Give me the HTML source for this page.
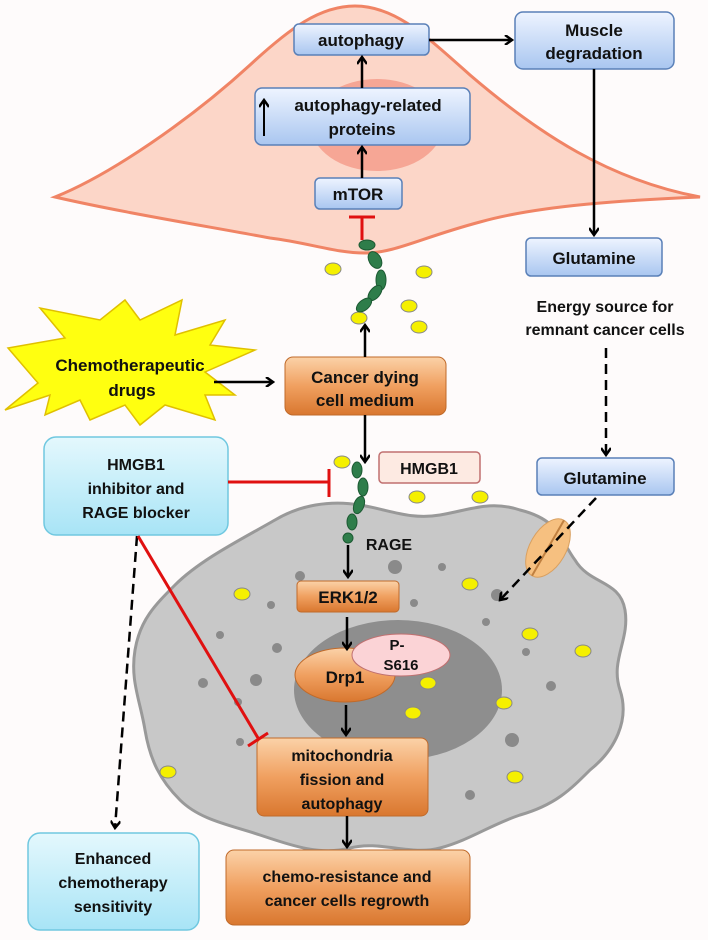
<!DOCTYPE html>
<html><head><meta charset="utf-8"><style>
html,body{margin:0;padding:0;background:#fff;}
svg text{font-family:"Liberation Sans",sans-serif;font-weight:bold;fill:#111;text-anchor:middle;}
</style></head><body>
<svg width="708" height="940" viewBox="0 0 708 940" xmlns="http://www.w3.org/2000/svg">
<defs>
<linearGradient id="blue" x1="0" y1="0" x2="0" y2="1"><stop offset="0" stop-color="#eef4ff"/><stop offset="1" stop-color="#a9c6f0"/></linearGradient>
<linearGradient id="orange" x1="0" y1="0" x2="0" y2="1"><stop offset="0" stop-color="#fbd2a8"/><stop offset="0.5" stop-color="#f0a060"/><stop offset="1" stop-color="#d9772f"/></linearGradient>
<linearGradient id="cyan" x1="0" y1="0" x2="0" y2="1"><stop offset="0" stop-color="#e4f8fd"/><stop offset="1" stop-color="#a8e4f6"/></linearGradient>
<marker id="ah" markerWidth="10" markerHeight="10" refX="8" refY="5" orient="auto" markerUnits="userSpaceOnUse"><path d="M1,0 L8,5 L1,10" fill="none" stroke="#000" stroke-width="2.5"/></marker>
</defs>
<rect width="708" height="940" fill="#fefbfb"/>
<!-- muscle cell -->
<path d="M55,197 C110,175 190,120 250,65 C290,28 320,6 355,6 C395,6 425,35 470,75 C540,135 610,180 700,197 C630,200 540,205 480,222 C420,238 395,253 365,253 C335,253 310,243 270,238 C200,225 120,212 55,197 Z" fill="#fcd6c8" stroke="#f08465" stroke-width="3"/>
<ellipse cx="377" cy="125" rx="66" ry="46" fill="#f6a695"/>
<!-- gray cancer cell -->
<path d="M175,585 C200,560 240,540 275,520 C300,505 330,500 360,505 C390,510 410,520 440,515 C470,510 490,500 520,510 C560,520 560,540 575,560 C590,585 620,580 625,610 C630,640 610,660 620,690 C630,720 615,750 590,770 C570,790 555,805 520,815 C490,825 470,840 440,848 C410,856 380,840 350,848 C320,856 290,845 260,835 C230,825 200,820 180,800 C160,780 150,760 145,730 C140,700 130,680 135,650 C140,620 155,605 175,585 Z" fill="#c8c8c8" stroke="#999" stroke-width="3"/>
<ellipse cx="398" cy="690" rx="104" ry="70" fill="#8e8e8e"/>
<g fill="#8a8a8a">
<circle cx="395" cy="567" r="7"/><circle cx="442" cy="567" r="4"/><circle cx="300" cy="576" r="5"/><circle cx="271" cy="605" r="4"/><circle cx="414" cy="603" r="4"/><circle cx="497" cy="595" r="6"/><circle cx="486" cy="622" r="4"/><circle cx="220" cy="635" r="4"/><circle cx="277" cy="648" r="5"/><circle cx="526" cy="652" r="4"/><circle cx="203" cy="683" r="5"/><circle cx="256" cy="680" r="6"/><circle cx="551" cy="686" r="5"/><circle cx="238" cy="702" r="4"/><circle cx="512" cy="740" r="7"/><circle cx="240" cy="742" r="4"/><circle cx="470" cy="795" r="5"/>
</g>
<g fill="#f5f000" stroke="#888" stroke-width="1">
<ellipse cx="333" cy="269" rx="8" ry="6"/><ellipse cx="424" cy="272" rx="8" ry="6"/><ellipse cx="409" cy="306" rx="8" ry="6"/><ellipse cx="359" cy="318" rx="8" ry="6"/><ellipse cx="419" cy="327" rx="8" ry="6"/>
<ellipse cx="342" cy="462" rx="8" ry="6"/><ellipse cx="417" cy="497" rx="8" ry="6"/><ellipse cx="480" cy="497" rx="8" ry="6"/>
<ellipse cx="242" cy="594" rx="8" ry="6"/><ellipse cx="470" cy="584" rx="8" ry="6"/><ellipse cx="530" cy="634" rx="8" ry="6"/><ellipse cx="583" cy="651" rx="8" ry="6"/><ellipse cx="428" cy="683" rx="8" ry="6"/><ellipse cx="504" cy="703" rx="8" ry="6"/><ellipse cx="413" cy="713" rx="8" ry="6"/><ellipse cx="168" cy="772" rx="8" ry="6"/><ellipse cx="515" cy="777" rx="8" ry="6"/>
</g>
<!-- RAGE chains -->
<g fill="#2e7d4a" stroke="#1d5a33" stroke-width="1">
<ellipse cx="367" cy="245" rx="8" ry="5"/><ellipse cx="375" cy="260" rx="6" ry="9" transform="rotate(-30 375 260)"/><ellipse cx="381" cy="280" rx="5" ry="10"/><ellipse cx="375" cy="293" rx="5" ry="9" transform="rotate(40 375 293)"/><ellipse cx="364" cy="305" rx="5" ry="9" transform="rotate(50 364 305)"/>
<ellipse cx="357" cy="470" rx="5" ry="8"/><ellipse cx="363" cy="487" rx="5" ry="9"/><ellipse cx="359" cy="505" rx="5" ry="9" transform="rotate(20 359 505)"/><ellipse cx="352" cy="522" rx="5" ry="8"/><circle cx="348" cy="538" r="5"/>
</g>
<!-- transporter -->
<g transform="rotate(30 548 548)"><ellipse cx="548" cy="548" rx="18" ry="32" fill="#f6c080" stroke="#d9a060"/><line x1="548" y1="516" x2="548" y2="580" stroke="#c08040" stroke-width="2"/></g>
<!-- starburst -->
<polygon points="5,410 38,383 8,348 65,338 40,308 100,320 125,300 140,320 182,300 175,335 225,320 210,345 255,350 205,372 235,395 205,395 215,420 165,405 140,425 125,405 90,420 80,400 45,415 50,395" fill="#ffff10" stroke="#e0c000" stroke-width="1.5"/>
<text x="130" y="371" font-size="17">Chemotherapeutic</text>
<text x="132" y="396" font-size="17">drugs</text>
<!-- boxes -->
<g stroke="#5a80b8" stroke-width="1.5" fill="url(#blue)">
<rect x="294" y="24" width="135" height="31" rx="5"/>
<rect x="515" y="12" width="159" height="57" rx="8"/>
<rect x="255" y="88" width="215" height="57" rx="7"/>
<rect x="315" y="178" width="87" height="31" rx="5"/>
<rect x="526" y="238" width="136" height="38" rx="5"/>
<rect x="537" y="458" width="137" height="37" rx="5"/>
</g>
<text x="361" y="46" font-size="17">autophagy</text>
<text x="594" y="36" font-size="17">Muscle</text>
<text x="594" y="59" font-size="17">degradation</text>
<text x="368" y="111" font-size="17">autophagy-related</text>
<text x="362" y="135" font-size="17">proteins</text>
<line x1="264" y1="136" x2="264" y2="100" stroke="#000" stroke-width="2" marker-end="url(#ah)"/>
<text x="358" y="200" font-size="17">mTOR</text>
<text x="594" y="264" font-size="17">Glutamine</text>
<text x="605" y="312" font-size="16">Energy source for</text>
<text x="605" y="335" font-size="16">remnant cancer cells</text>
<text x="605" y="484" font-size="17">Glutamine</text>
<g stroke="#c06a2a" stroke-width="1" fill="url(#orange)">
<rect x="285" y="357" width="161" height="58" rx="8"/>
<rect x="297" y="581" width="102" height="31" rx="4"/>
<rect x="257" y="738" width="171" height="78" rx="7"/>
<rect x="226" y="850" width="244" height="75" rx="8"/>
</g>
<text x="365" y="383" font-size="17">Cancer dying</text>
<text x="365" y="406" font-size="17">cell medium</text>
<text x="348" y="603" font-size="17">ERK1/2</text>
<text x="342" y="761" font-size="16">mitochondria</text>
<text x="342" y="785" font-size="16">fission and</text>
<text x="342" y="809" font-size="16">autophagy</text>
<text x="347" y="882" font-size="16">chemo-resistance and</text>
<text x="347" y="906" font-size="16">cancer cells regrowth</text>
<g stroke="#70c8e0" stroke-width="1.5" fill="url(#cyan)">
<rect x="44" y="437" width="184" height="98" rx="12"/>
<rect x="28" y="833" width="171" height="97" rx="12"/>
</g>
<text x="136" y="470" font-size="16">HMGB1</text>
<text x="136" y="494" font-size="16">inhibitor and</text>
<text x="136" y="518" font-size="16">RAGE blocker</text>
<text x="113" y="864" font-size="16">Enhanced</text>
<text x="113" y="888" font-size="16">chemotherapy</text>
<text x="113" y="912" font-size="16">sensitivity</text>
<rect x="379" y="452" width="101" height="31" rx="4" fill="#fdeae2" stroke="#c07070" stroke-width="1.5"/>
<text x="429" y="474" font-size="16">HMGB1</text>
<text x="389" y="550" font-size="16">RAGE</text>
<ellipse cx="345" cy="675" rx="50" ry="27" fill="url(#orange)" stroke="#c06a2a"/>
<ellipse cx="401" cy="655" rx="49" ry="21" fill="#fbd3d6" stroke="#c07070"/>
<text x="397" y="650" font-size="15">P-</text>
<text x="401" y="670" font-size="15">S616</text>
<text x="345" y="683" font-size="17">Drp1</text>
<!-- arrows -->
<g stroke="#000" stroke-width="2.5" fill="none" marker-end="url(#ah)">
<line x1="362" y1="178" x2="362" y2="147"/>
<line x1="362" y1="88" x2="362" y2="57"/>
<line x1="429" y1="40" x2="512" y2="40"/>
<line x1="594" y1="69" x2="594" y2="235"/>
<line x1="365" y1="357" x2="365" y2="325"/>
<line x1="214" y1="382" x2="273" y2="382"/>
<line x1="365" y1="415" x2="365" y2="462"/>
<line x1="348" y1="545" x2="348" y2="577"/>
<line x1="347" y1="617" x2="347" y2="649"/>
<line x1="346" y1="705" x2="346" y2="735"/>
<line x1="347" y1="816" x2="347" y2="847"/>
<line x1="606" y1="348" x2="606" y2="455" stroke-dasharray="10,6"/>
<line x1="137" y1="536" x2="115" y2="828" stroke-dasharray="10,6"/>
<line x1="596" y1="498" x2="500" y2="600" stroke-dasharray="10,6"/>
</g>
<g stroke="#e01010" stroke-width="3" fill="none">
<line x1="362" y1="240" x2="362" y2="217"/><line x1="349" y1="217" x2="375" y2="217"/>
<line x1="228" y1="482" x2="329" y2="482"/><line x1="329" y1="469" x2="329" y2="497"/>
<line x1="138" y1="536" x2="258" y2="738"/><line x1="248" y1="746" x2="268" y2="733"/>
</g>
</svg>
</body></html>
